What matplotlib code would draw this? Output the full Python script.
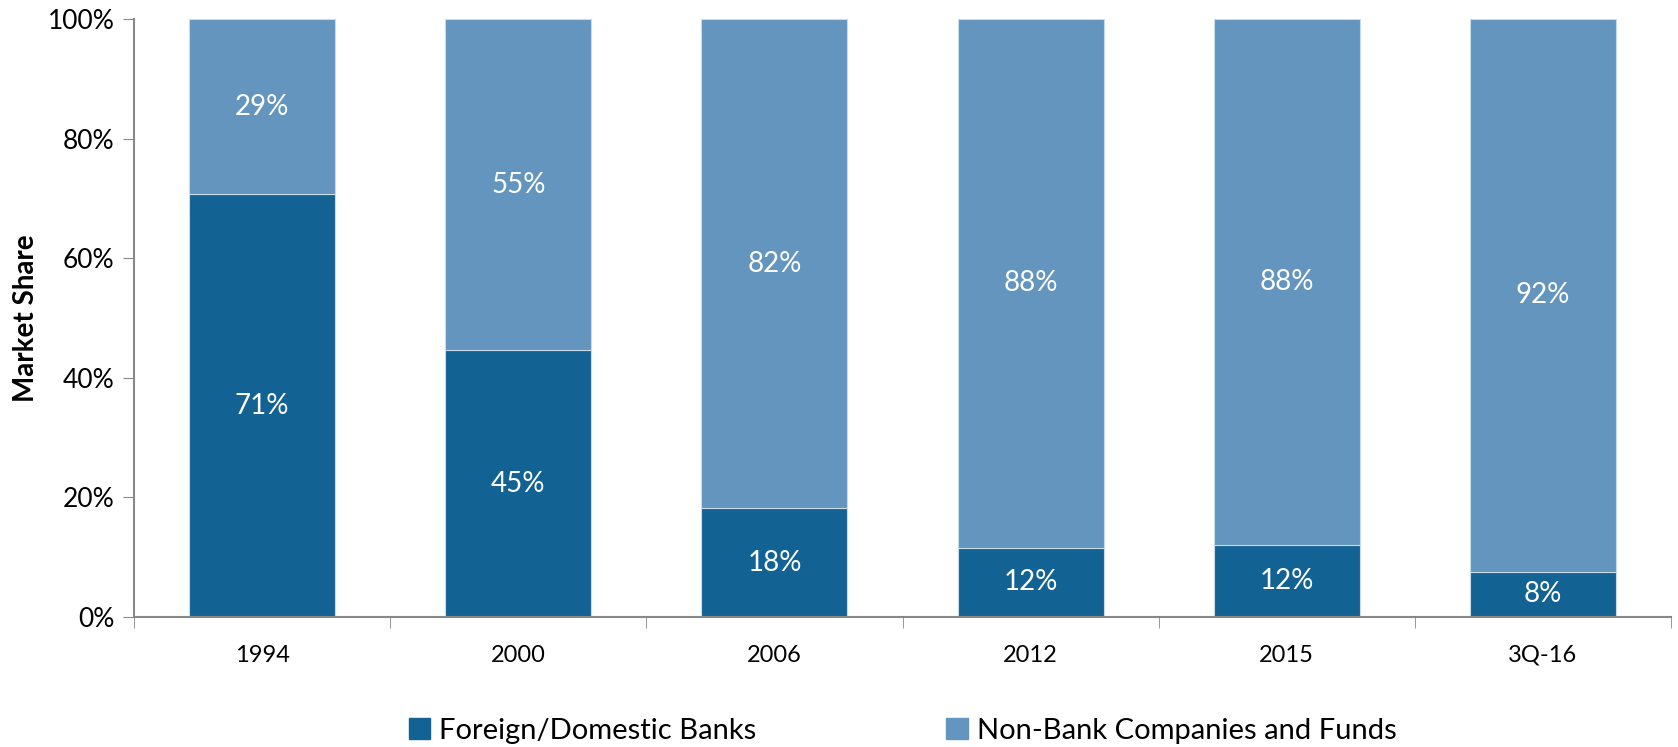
import numpy as np
import matplotlib.pyplot as plt
from matplotlib.patches import Patch

plt.rcParams['font.family'] = ['Lato', 'DejaVu Sans']

periods = ['1994', '2000', '2006', '2012', '2015', '3Q-16']
banks = [70.7, 44.6, 18.2, 11.6, 12.1, 7.6]
non_banks = [100 - b for b in banks]

c_banks = '#126293'
c_non = '#6395be'

fig = plt.figure(figsize=(16.78, 7.47), dpi=100)
ax = fig.add_axes([0.0799, 0.174, 0.9159, 0.8006])

x = np.arange(len(periods))
w = 0.57
ax.bar(x, banks, w, color=c_banks, edgecolor='#c9dae9', linewidth=0.8)
ax.bar(x, non_banks, w, bottom=banks, color=c_non, edgecolor='#c9dae9', linewidth=0.8)

# percentage labels in the middle of each segment
for i in range(len(periods)):
    ax.text(x[i], banks[i] / 2, '%d%%' % round(banks[i]), ha='center', va='center',
            color='white', fontsize=20)
    ax.text(x[i], banks[i] + non_banks[i] / 2, '%d%%' % round(non_banks[i]),
            ha='center', va='center', color='white', fontsize=20)

ax.set_xlim(-0.5, len(periods) - 0.5)
ax.set_ylim(0, 100)
ax.set_yticks(range(0, 101, 20))
ax.set_yticklabels(['%d%%' % v for v in range(0, 101, 20)], fontsize=19)
ax.set_xticks(x)
ax.set_xticklabels(periods, fontsize=17)
ax.set_xticks(np.arange(-0.5, len(periods), 1), minor=True)
ax.tick_params(axis='x', which='major', length=0, pad=20)
ax.tick_params(axis='x', which='minor', length=8, color='#888888', direction='out')
ax.tick_params(axis='y', length=8, color='#888888', pad=6)

for s in ['top', 'right']:
    ax.spines[s].set_visible(False)
for s in ['left', 'bottom']:
    ax.spines[s].set_color('#888888')
    ax.spines[s].set_linewidth(1.5)

ax.set_ylabel('Market Share', fontsize=20, fontweight='bold', labelpad=6)

handles = [Patch(color=c_banks, label='Foreign/Domestic Banks'),
           Patch(color=c_non, label='Non-Bank Companies and Funds')]
ax.legend(handles=handles, loc='center', bbox_to_anchor=(0.5, -0.19), ncol=2,
          frameon=False, fontsize=21, handlelength=0.75, handleheight=0.75,
          handletextpad=0.3, columnspacing=6.5)

fig.savefig('out.png', dpi=100)
